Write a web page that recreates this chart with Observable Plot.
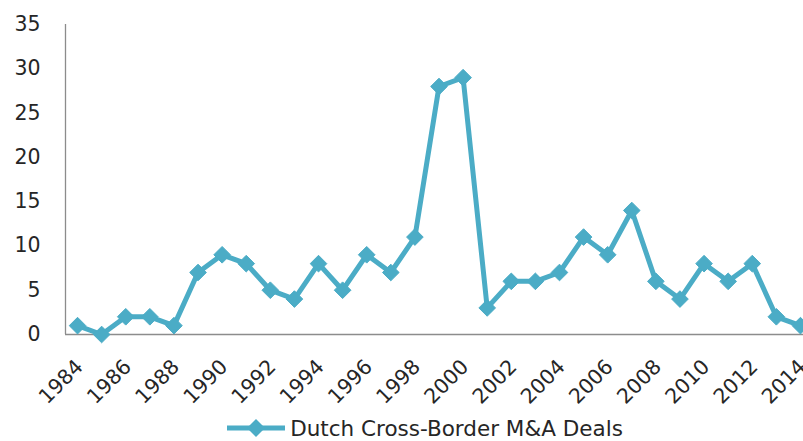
<!DOCTYPE html>
<html>
<head>
<meta charset="utf-8">
<script src="https://cdn.jsdelivr.net/npm/d3@7"></script>
<script src="https://cdn.jsdelivr.net/npm/@observablehq/plot@0.6"></script>
<style>
  html, body { margin: 0; padding: 0; background: #fff; }
  #chart { width: 803px; }
  #legend { width: 803px; height: 26px; padding-top: 3px; box-sizing: content-box; display: flex; justify-content: center; align-items: center;
            font-family: "DejaVu Sans", sans-serif; font-size: 21.5px; color: #262626; }
  #legend .inner { display: flex; align-items: center; margin-left: 45px; }
  #legend svg { margin-right: 3px; }
</style>
</head>
<body>
<div id="chart"></div>
<div id="legend"></div>
<script>
const years = [1984,1985,1986,1987,1988,1989,1990,1991,1992,1993,1994,1995,1996,1997,1998,1999,2000,2001,2002,2003,2004,2005,2006,2007,2008,2009,2010,2011,2012,2013,2014];
const deals = [1,0,2,2,1,7,9,8,5,4,8,5,9,7,11,28,29,3,6,6,7,11,9,14,6,4,8,6,8,2,1];
const xTicks = [1984,1986,1988,1990,1992,1994,1996,1998,2000,2002,2004,2006,2008,2010,2012,2014];
const yTicks = [0,5,10,15,20,25,30,35];
const seriesName = "Dutch Cross-Border M&A Deals";
const color = "#4BACC6";

const data = years.map((y, i) => ({year: y, value: deals[i]}));
const xDomain = [years[0] - 0.5, years[years.length - 1] + 0.5];

const chart = Plot.plot({
  width: 803,
  height: 412,
  marginLeft: 65,
  marginRight: 0,
  marginTop: 24,
  marginBottom: 78,
  style: {fontFamily: "DejaVu Sans, sans-serif", fontSize: "20px", color: "#262626", background: "#fff"},
  x: {domain: xDomain, range: [65, 812], label: null},
  y: {domain: [0, 35], label: null},
  marks: [
    Plot.axisY({ticks: yTicks, tickSize: 0, tickPadding: 25, tickFormat: d => String(d), fontSize: 20.5, label: null}),
    Plot.axisX({ticks: xTicks, tickSize: 0, tickPadding: 29, tickRotate: -45, tickFormat: d => String(d), fontSize: 20.5, label: null, dx: 2}),
    Plot.ruleY([0], {stroke: "#8c8c8c", strokeWidth: 1.3}),
    Plot.ruleX([xDomain[0]], {stroke: "#8c8c8c", strokeWidth: 1.3}),
    Plot.line(data, {x: "year", y: "value", stroke: color, strokeWidth: 5, clip: false}),
    Plot.dot(data, {x: "year", y: "value", symbol: "diamond2", r: 7.5, fill: color, stroke: color, strokeWidth: 1})
  ]
});
document.getElementById("chart").appendChild(chart);

const legend = document.getElementById("legend");
legend.innerHTML =
  `<div class="inner"><svg width="62" height="20"><line x1="2" y1="10" x2="60" y2="10" stroke="${color}" stroke-width="5"/>` +
  `<path d="M31,1 L40,10 L31,19 L22,10 Z" fill="${color}"/></svg><span></span></div>`;
legend.querySelector("span").textContent = seriesName;
</script>
</body>
</html>
